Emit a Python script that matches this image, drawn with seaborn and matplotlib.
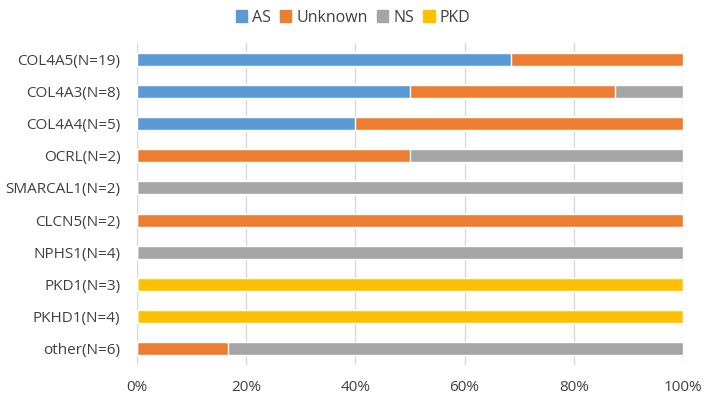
import numpy as np
import pandas as pd
import seaborn as sns
import matplotlib.pyplot as plt
from matplotlib.patches import Patch
from matplotlib.ticker import PercentFormatter

# data (counts per gene)
genes = ['COL4A5(N=19)', 'COL4A3(N=8)', 'COL4A4(N=5)', 'OCRL(N=2)', 'SMARCAL1(N=2)',
         'CLCN5(N=2)', 'NPHS1(N=4)', 'PKD1(N=3)', 'PKHD1(N=4)', 'other(N=6)']
as_n      = [13, 4, 2, 0, 0, 0, 0, 0, 0, 0]
unknown_n = [6, 3, 3, 1, 0, 2, 0, 0, 0, 1]
ns_n      = [0, 1, 0, 1, 2, 0, 4, 0, 0, 5]
pkd_n     = [0, 0, 0, 0, 0, 0, 0, 3, 4, 0]

groups = ['AS', 'Unknown', 'NS', 'PKD']
colors = ['#5B9BD5', '#ED7D31', '#A5A5A5', '#FFC000']

df = pd.DataFrame({'gene': genes, 'AS': as_n, 'Unknown': unknown_n, 'NS': ns_n, 'PKD': pkd_n})
tot = df[groups].sum(axis=1)
pct = df[groups].div(tot, axis=0) * 100
cum = pct.cumsum(axis=1)
cum['gene'] = df['gene']

sns.set_style('white')
plt.rcParams['font.family'] = ['Open Sans', 'DejaVu Sans']

fig = plt.figure(figsize=(7.06, 3.96), dpi=100)
ax = fig.add_axes([137 / 706, 1 - 365 / 396, (683 - 137) / 706, (365 - 43) / 396])

# draw from the top of the stack downwards so each layer covers the next
for g, c in reversed(list(zip(groups, colors))):
    sns.barplot(data=cum, x=g, y='gene', orient='h', color=c, width=0.4,
                saturation=1, ax=ax, zorder=2)

ax.set_xlim(0, 100)
ax.set_ylim(len(genes) - 0.5, -0.5)
ax.set_xticks(np.arange(0, 101, 20))
ax.xaxis.set_major_formatter(PercentFormatter(decimals=0))
ax.grid(axis='x', color='#D9D9D9', lw=1, zorder=0)
ax.set_axisbelow(True)
for s in ax.spines.values():
    s.set_visible(False)
ax.set_xlabel('')
ax.set_ylabel('')
ax.tick_params(axis='both', length=0, labelsize=11, labelcolor='#404040')
ax.tick_params(axis='x', pad=11)
ax.tick_params(axis='y', pad=12)

handles = [Patch(color=c, label=g) for g, c in zip(groups, colors)]
fig.legend(handles=handles, loc='upper center', bbox_to_anchor=(0.5, 1.012), ncol=4,
           frameon=False, fontsize=11.5, handlelength=0.7, handleheight=0.7,
           handletextpad=0.3, columnspacing=0.6, labelcolor='#404040')

fig.savefig('out.png', dpi=100)
